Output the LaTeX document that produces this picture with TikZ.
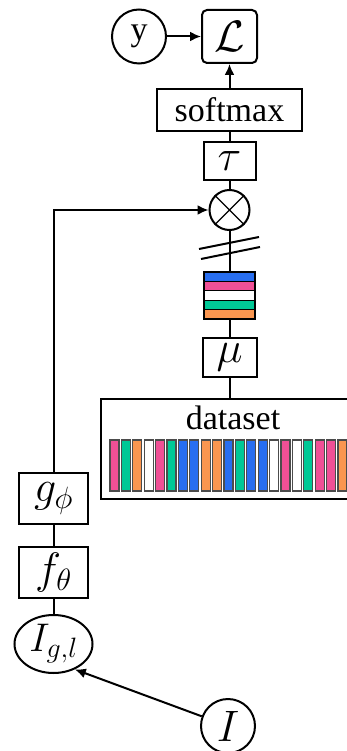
\RequirePackage{fix-cm}
\documentclass[tikz,border=0pt]{standalone}
\usepackage{fontspec}
\setmainfont{Liberation Serif}
\usetikzlibrary{arrows.meta,shapes.geometric}

\definecolor{cblue}{RGB}{40,110,240}
\definecolor{cpink}{RGB}{240,80,150}
\definecolor{cgreen}{RGB}{0,200,150}
\definecolor{corange}{RGB}{250,150,80}

\begin{document}
\begin{tikzpicture}[x=1pt,y=-1pt]
    % Canvas
    \useasboundingbox (0,0) rectangle (347,751);
    \clip (0,0) rectangle (347,751);

    % Styling
    \tikzset{
        every node/.style={font=\fontsize{34}{40}\selectfont},
        c_math/.style={font=\fontsize{44}{50}\selectfont},
        c_box/.style={draw, line width=2pt, inner sep=0pt},
        c_circ/.style={draw, circle, line width=2pt, inner sep=0pt},
        c_line/.style={line width=2pt},
        c_arr/.style={line width=2pt, -{Latex[length=11pt,width=10pt]}},
        c_band/.style={draw=black, line width=1.2pt},
        c_bar/.style={draw=black!70, line width=1.2pt}
    }

    % Loss and its inputs
    \node[c_circ, minimum size=54pt] (y) at (139,36.5) {y};
    \node[c_box, c_math, rounded corners=5pt, minimum width=55pt, minimum height=53pt] (loss) at (229.5,36.5) {$\mathcal{L}$};
    \node[c_box, minimum width=145pt, minimum height=42pt] (softmax) at (229.5,110) {softmax};
    \node[c_box, c_math, minimum width=52pt, minimum height=38pt] (tau) at (229.5,161) {$\tau$};
    \node[c_circ, minimum size=40pt] (mult) at (229.5,210) {};
    \draw[line width=1.2pt] (mult.45) -- (mult.225) (mult.135) -- (mult.-45);

    % Prototype stack
    \node[minimum width=51pt, minimum height=47pt, inner sep=0pt] (stack) at (229.5,295.5) {};
    \foreach \c [count=\i from 0] in {cblue,cpink,white,cgreen,corange} {
        \draw[c_band, fill=\c] (204,272+9.4*\i) rectangle ++(51,9.4);
    }
    \node[c_box, c_math, minimum width=54pt, minimum height=39pt] (mu) at (229.5,357.5) {$\mu$};

    % Dataset
    \node[c_box, anchor=north west, minimum width=260pt, minimum height=100pt] (dataset) at (100,398) {};
    \node (dslabel) at (233,418) {dataset};
    \foreach \c [count=\i from 0] in {cpink,cgreen,corange,white,cpink,cgreen,cblue,cblue,corange,corange,cblue,cgreen,cblue,cblue,white,cpink,white,cgreen,cpink,cpink,corange} {
        \draw[c_bar, fill=\c] (110+11.4*\i,440) rectangle ++(9,51);
    }

    % Image branch
    \node[c_box, c_math, minimum width=69pt, minimum height=51pt] (gphi) at (53.5,498.5) {$g_\phi$};
    \node[c_box, c_math, minimum width=69pt, minimum height=51pt] (fth) at (53.5,572.5) {$f_\theta$};
    \node[draw, ellipse, line width=2pt, inner sep=0pt, minimum width=78pt, minimum height=58pt, font=\fontsize{40}{46}\selectfont] (igl) at (53.5,644) {$I_{g,l}$};
    \node[c_circ, c_math, minimum size=54pt] (img) at (228,726) {$I$};

    % Connectors
    \draw[c_arr] (y) -- (loss);
    \draw[c_arr] (softmax) -- (loss);
    \draw[c_line] (tau) -- (softmax);
    \draw[c_line] (mult) -- (tau);
    \draw[c_line] (stack) -- (mult);
    \draw[c_line] (mu) -- (stack);
    \draw[c_line] (dataset.north -| mu) -- (mu);
    \draw[c_arr] (gphi.north) |- (mult.west);
    \draw[c_line] (fth) -- (gphi);
    \draw[c_line] (igl) -- (fth);
    \draw[c_arr] (img) -- (igl.-50);

    % Cut marks
    \draw[c_line] (199,249) -- (259,237);
    \draw[c_line] (201,259) -- (260,247);
\end{tikzpicture}
\end{document}
